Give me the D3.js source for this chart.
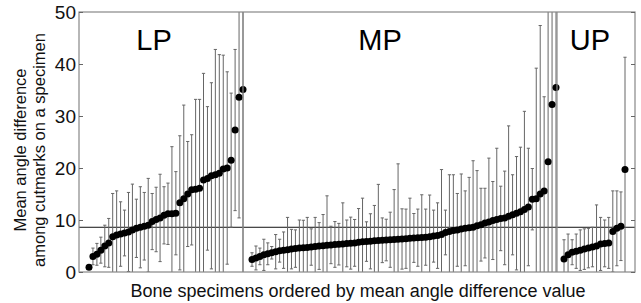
<!DOCTYPE html>
<html>
<head>
<meta charset="utf-8">
<script src="https://cdn.jsdelivr.net/npm/d3@7"></script>
<style>
  body { margin: 0; background: #fff; }
  svg { display: block; font-family: "Liberation Sans", Arial, sans-serif; }
  .bar { stroke: #666; stroke-width: 1; }
  .frame { fill: none; stroke: #888; stroke-width: 1.2; }
</style>
</head>
<body>
<svg id="chart" width="641" height="303"></svg>
<script>
// Mean angle difference per specimen (sorted) and its SD, one pair per group
var lpMean = [0.9, 3.0, 3.4, 4.2, 5.0, 5.6, 6.8, 7.1, 7.3, 7.5, 7.7, 8.1, 8.4, 8.6, 8.8, 9.0, 9.7, 10.1, 10.4, 10.9,
              11.2, 11.2, 11.3, 13.3, 14.1, 15.0, 15.8, 15.9, 16.1, 17.7, 18.0, 18.5, 18.7, 19.0, 19.8, 20.0, 21.5, 27.3, 33.6, 35.1];
var lpSd   = [0.4, 1.6, 2.1, 2.5, 4.0, 4.7, 8.3, 8.5, 6.2, 4.4, 7.6, 8.8, 5.6, 7.8, 6.5, 9.0, 5.4, 6.2, 8.4, 5.5,
              5.9, 12.9, 8.0, 12.9, 18.0, 10.1, 10.6, 17.3, 17.1, 20.5, 13.8, 17.9, 24.1, 22.8, 21.9, 18.5, 12.9, 15.5, 23.2, 38.0];

var mpMean = [2.4, 2.7, 3.0, 3.3, 3.5, 3.7, 3.9, 4.1, 4.2, 4.3, 4.4, 4.5, 4.6, 4.65, 4.7, 4.8, 4.9, 5.0, 5.05, 5.15,
              5.2, 5.3, 5.35, 5.4, 5.5, 5.55, 5.6, 5.7, 5.8, 5.85, 5.9, 6.0, 6.05, 6.1, 6.15, 6.2, 6.25, 6.3, 6.35, 6.4,
              6.5, 6.55, 6.6, 6.65, 6.7, 6.8, 6.9, 7.0, 7.2, 7.6, 7.8, 8.0, 8.1, 8.25, 8.4, 8.5, 8.6, 8.9, 9.1, 9.4,
              9.6, 9.9, 10.1, 10.3, 10.4, 10.7, 11.0, 11.3, 11.6, 12.0, 12.5, 14.0, 14.1, 15.0, 15.6, 21.2, 32.2, 35.5];
var mpSd   = [1.3, 2.3, 1.6, 3.0, 2.1, 1.2, 3.3, 2.2, 3.5, 6.2, 3.8, 3.6, 5.4, 5.3, 5.8, 3.5, 5.6, 4.5, 6.0, 9.5,
              3.6, 4.4, 4.0, 7.9, 4.5, 5.0, 4.5, 6.5, 8.4, 3.8, 5.3, 6.8, 10.8, 4.3, 4.0, 5.3, 9.6, 14.5, 5.8, 5.7,
              7.7, 4.7, 5.5, 8.2, 5.4, 8.0, 5.0, 6.3, 12.5, 4.3, 10.9, 10.7, 7.0, 10.6, 7.2, 9.7, 12.8, 10.6, 7.0, 6.7,
              12.3, 7.5, 13.7, 6.2, 9.0, 17.4, 7.7, 10.9, 12.4, 18.9, 11.3, 5.9, 25.1, 32.4, 18.1, 35.0, 40.0, 45.0];

var upMean = [2.5, 3.3, 3.8, 4.0, 4.2, 4.4, 4.6, 4.8, 5.0, 5.4, 5.5, 5.6, 7.8, 8.4, 8.8, 19.7];
var upSd   = [3.7, 4.0, 2.4, 3.3, 3.9, 3.9, 3.8, 3.8, 7.9, 5.1, 4.5, 4.9, 7.8, 7.2, 6.6, 21.6];

var groupNames = ["LP", "MP", "UP"];
var yTicks = [0, 10, 20, 30, 40, 50];
var refValue = 8.6; // overall mean line

(function() {

var svg = d3.select("#chart");
var mLeft = 79, mRight = 635, mTop = 12, mBottom = 272;

var y = d3.scaleLinear().domain([0, 50]).range([mBottom, mTop]);

// pixel span of the dots inside each panel
var groups = [
  { name: groupNames[0], mean: lpMean, sd: lpSd, range: [89, 243], label: 154 },
  { name: groupNames[1], mean: mpMean, sd: mpSd, range: [252, 556], label: 380 },
  { name: groupNames[2], mean: upMean, sd: upSd, range: [564, 625], label: 590 }
];
var dividers = [243, 557];

svg.append("rect").attr("width", 641).attr("height", 303).attr("fill", "#fff");

svg.append("clipPath").attr("id", "plot")
  .append("rect")
    .attr("x", mLeft).attr("y", mTop)
    .attr("width", mRight - mLeft).attr("height", mBottom - mTop);

var plot = svg.append("g").attr("clip-path", "url(#plot)");

// reference line
plot.append("line")
    .attr("x1", mLeft).attr("x2", mRight)
    .attr("y1", y(refValue)).attr("y2", y(refValue))
    .attr("stroke", "#111").attr("stroke-width", 1);

groups.forEach(function(gr) {
  var x = d3.scaleLinear().domain([0, gr.mean.length - 1]).range(gr.range);
  var pts = gr.mean.map(function(m, i) { return { i: i, m: m, s: gr.sd[i] }; });
  var g = plot.append("g");

  // error bars
  var eb = g.selectAll("g.eb").data(pts).enter().append("g").attr("class", "eb");
  eb.append("line").attr("class", "bar")
      .attr("x1", function(d) { return x(d.i); })
      .attr("x2", function(d) { return x(d.i); })
      .attr("y1", function(d) { return y(d.m - d.s); })
      .attr("y2", function(d) { return y(d.m + d.s); });
  [1, -1].forEach(function(sign) {
    eb.append("line").attr("class", "bar")
        .attr("x1", function(d) { return x(d.i) - 1.6; })
        .attr("x2", function(d) { return x(d.i) + 1.6; })
        .attr("y1", function(d) { return y(d.m + sign * d.s); })
        .attr("y2", function(d) { return y(d.m + sign * d.s); });
  });

  // means
  g.selectAll("circle").data(pts).enter().append("circle")
      .attr("cx", function(d) { return x(d.i); })
      .attr("cy", function(d) { return y(d.m); })
      .attr("r", 3.5)
      .attr("fill", "#000");

  svg.append("text")
      .attr("x", gr.label).attr("y", 50)
      .attr("text-anchor", "middle")
      .attr("font-size", 29)
      .text(gr.name);
});

// panel dividers
svg.selectAll("line.div").data(dividers).enter().append("line")
    .attr("class", "div")
    .attr("x1", function(d) { return d; }).attr("x2", function(d) { return d; })
    .attr("y1", mTop).attr("y2", mBottom)
    .attr("stroke", "#888").attr("stroke-width", 1.2);

svg.append("rect").attr("class", "frame")
    .attr("x", mLeft).attr("y", mTop)
    .attr("width", mRight - mLeft).attr("height", mBottom - mTop);

// axes: inward ticks both sides, labels only on the left
var yl = svg.append("g").attr("transform", "translate(" + mLeft + ",0)")
    .call(d3.axisLeft(y).tickValues(yTicks).tickSize(-4).tickPadding(3));
var yr = svg.append("g").attr("transform", "translate(" + mRight + ",0)")
    .call(d3.axisRight(y).tickValues(yTicks).tickSize(-4).tickFormat(""));
[yl, yr].forEach(function(a) {
  a.select(".domain").remove();
  a.selectAll(".tick line").attr("stroke", "#666");
});
yl.selectAll("text")
    .attr("font-size", 19)
    .attr("font-family", "Liberation Sans, Arial, sans-serif")
    .attr("fill", "#111");

// titles
var yt = svg.append("text")
    .attr("transform", "translate(26,150) rotate(-90)")
    .attr("text-anchor", "middle")
    .attr("font-size", 16.5)
    .attr("fill", "#111");
yt.append("tspan").attr("x", 0).attr("dy", 0).text("Mean angle difference");
yt.append("tspan").attr("x", 0).attr("dy", 19).text("among cutmarks on a specimen");

svg.append("text")
    .attr("x", 358).attr("y", 297)
    .attr("text-anchor", "middle")
    .attr("font-size", 18)
    .attr("fill", "#111")
    .text("Bone specimens ordered by mean angle difference value");

})();
</script>
</body>
</html>
